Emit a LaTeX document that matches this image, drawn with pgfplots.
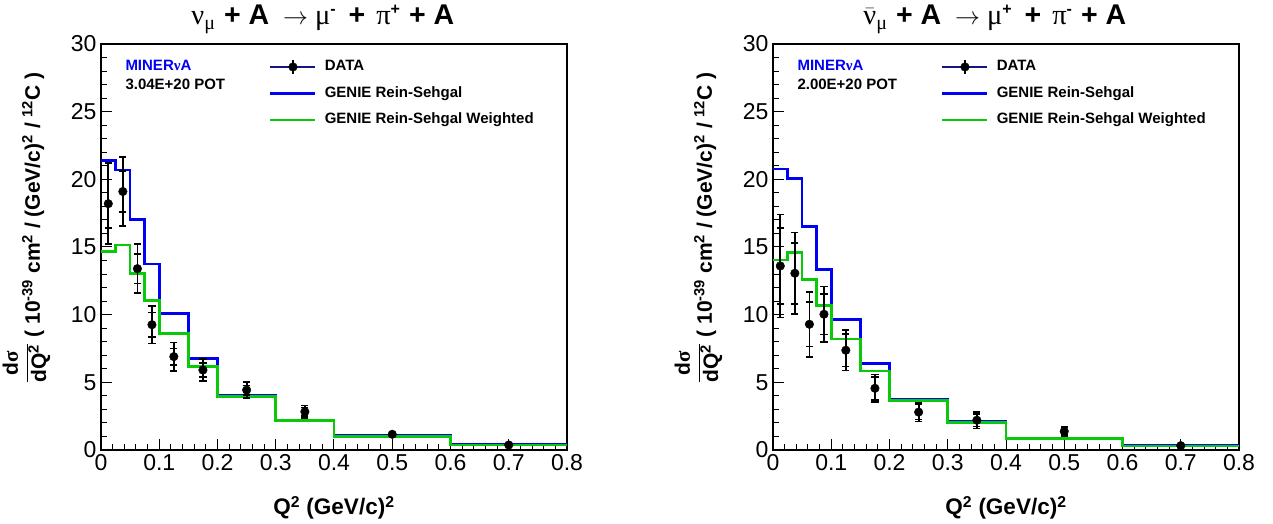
\documentclass[border=0pt]{standalone}
\usepackage{fontspec}
\setmainfont{Liberation Sans}
\newfontfamily\grk{Liberation Serif}
\usepackage{pgfplots}
\usepackage{pgfplotstable}
\pgfplotsset{compat=1.18}
\definecolor{rblue}{RGB}{0,0,245}
\definecolor{rgreen}{RGB}{10,200,10}
\definecolor{navy}{RGB}{20,20,130}

% data: x, y, stat error, total error
\pgfplotstableread{
x y stat tot
0.0125 18.2 1.8 3.0
0.0375 19.1 1.5 2.55
0.0625 13.4 1.1 1.8
0.0875 9.26 0.9 1.4
0.125 6.9 0.6 1.05
0.175 5.91 0.5 0.8
0.25 4.43 0.35 0.6
0.35 2.83 0.3 0.45
0.5 1.16 0.08 0.12
0.7 0.37 0.04 0.06
}\dataL
\pgfplotstableread{
x y stat tot
0.0125 13.6 2.8 3.8
0.0375 13.06 2.25 3.0
0.0625 9.29 1.65 2.4
0.0875 10.03 1.5 2.05
0.125 7.37 1.2 1.5
0.175 4.56 0.85 1.03
0.25 2.8 0.55 0.68
0.35 2.2 0.45 0.6
0.5 1.38 0.28 0.35
0.7 0.32 0.05 0.08
}\dataR
% histograms: left bin edge, value
\pgfplotstableread{
x blue green
0 21.4 14.65
0.025 20.7 15.15
0.05 17.05 13.06
0.075 13.75 11.04
0.1 10.1 8.62
0.15 6.75 6.16
0.2 4.04 3.94
0.3 2.2 2.2
0.4 1.05 1.01
0.6 0.4 0.37
0.8 0.4 0.37
}\histL
\pgfplotstableread{
x blue green
0 20.75 14.04
0.025 20.08 14.6
0.05 16.5 12.6
0.075 13.35 10.67
0.1 9.66 8.2
0.15 6.41 5.84
0.2 3.77 3.65
0.3 2.1 2.05
0.4 0.9 0.86
0.6 0.32 0.3
0.8 0.32 0.3
}\histR

\newcommand{\subm}{\raisebox{-5pt}{\fontsize{20}{20}\selectfont\grk μ}}
\newcommand{\supx}[1]{\raisebox{10pt}{\fontsize{16}{16}\selectfont\bfseries #1}}

\pgfplotsset{rootstyle/.style={
  scale only axis, width=466pt, height=406pt,
  xmin=0, xmax=0.8, ymin=0, ymax=30,
  xtick={0,0.1,0.2,0.3,0.4,0.5,0.6,0.7,0.8},
  ytick={0,5,10,15,20,25,30},
  minor x tick num=4, minor y tick num=4,
  tick align=inside, xtick pos=left, ytick pos=left,
  major tick length=11pt, minor tick length=6pt,
  axis line style={line width=1.5pt},
  every tick/.style={black, line width=1pt},
  tick label style={font=\fontsize{23}{25}\selectfont},
  /pgf/number format/assume math mode=true,
  xticklabel style={/pgf/number format/fixed, yshift=-1pt},
  yticklabel style={xshift=-1pt},
  every axis x label/.style={at={(axis description cs:0.5,-0.160)}, anchor=base, font=\bfseries\fontsize{22.5}{25}\selectfont},
  every axis y label/.style={at={(axis description cs:-0.131,0.547)}, anchor=base, rotate=90, font=\bfseries\fontsize{21}{24}\selectfont},
  every axis title/.style={at={(axis description cs:0.476,1.047)}, anchor=base, font=\fontsize{28.5}{30}\selectfont},
  xlabel={Q\textsuperscript{2} (GeV/c)\textsuperscript{2}},
  ylabel={\raisebox{8pt}{$\displaystyle\frac{\hbox{d{\grk\bfseries σ}}}{\hbox{dQ\textsuperscript{2}}}$} ( 10\textsuperscript{-39} cm\textsuperscript{2} / (GeV/c)\textsuperscript{2} / \textsuperscript{12}C )},
  legend style={at={(axis description cs:0.354,0.971)}, anchor=north west, draw=none, fill=none,
    font=\bfseries\fontsize{15}{17}\selectfont, row sep=8.5pt, column sep=6pt,
    nodes={inner sep=2pt, text height=11pt, text depth=3pt}},
  legend cell align=left,
  clip=false,
}}
\pgfplotsset{histo/.style={const plot mark left, mark=none, line width=2.6pt},
  cap/.style={only marks, mark=-, mark size=3.6pt, line width=1.6pt, black},
  toterr/.style={only marks, mark=*, mark size=4.3pt, black, mark options={fill=black},
    error bars/.cd, y dir=both, y explicit, error mark=none,
    error bar style={line width=1.8pt, black}},
}

\begin{document}
\begin{tikzpicture}
\useasboundingbox (0pt,0pt) rectangle (1273pt,524pt);
\begin{axis}[rootstyle, at={(101pt,74pt)}, anchor=south west,
  title={{\grk ν}\subm\hspace{9pt}\textbf{+ A}\hspace{14pt}$\rightarrow$\hspace{7pt}{\grk μ}\supx{-}\hspace{13pt}\textbf{+}\hspace{11pt}{\grk π}\supx{+}\hspace{9pt}\textbf{+ A}}]
\addlegendimage{legend image code/.code={\draw[navy,line width=1.2pt] (0pt,0pt)--(45pt,0pt); \draw[black,line width=1.2pt] (22.5pt,-7pt)--(22.5pt,7pt); \fill[black] (22.5pt,0pt) circle (4.3pt);}}
\addlegendentry{DATA}
\addlegendimage{legend image code/.code={\draw[rblue,line width=2.6pt] (0pt,0pt)--(45pt,0pt);}}
\addlegendentry{GENIE Rein-Sehgal}
\addlegendimage{legend image code/.code={\draw[rgreen,line width=2.6pt] (0pt,0pt)--(45pt,0pt);}}
\addlegendentry{GENIE Rein-Sehgal Weighted}
\addplot[forget plot, histo, rblue] table[x=x, y=blue] {\histL};
\addplot[forget plot, histo, rgreen] table[x=x, y=green] {\histL};
\addplot[forget plot, cap] table[x=x, y expr=\thisrow{y}+\thisrow{tot}] {\dataL};
\addplot[forget plot, cap] table[x=x, y expr=\thisrow{y}-\thisrow{tot}] {\dataL};
\addplot[forget plot, cap] table[x=x, y expr=\thisrow{y}+\thisrow{stat}] {\dataL};
\addplot[forget plot, cap] table[x=x, y expr=\thisrow{y}-\thisrow{stat}] {\dataL};
\addplot[forget plot, toterr] table[x=x, y=y, y error=tot] {\dataL};
\node[anchor=west, text=rblue, font=\bfseries\fontsize{15}{17}\selectfont] at (axis description cs:0.045,0.948) {MINER{\grk ν}A};
\node[anchor=west, font=\bfseries\fontsize{15}{17}\selectfont] at (axis description cs:0.045,0.900) {3.04E+20 POT};
\end{axis}
\begin{axis}[rootstyle, at={(773pt,74pt)}, anchor=south west,
  title={$\bar{\hbox{\grk ν}}$\subm\hspace{9pt}\textbf{+ A}\hspace{14pt}$\rightarrow$\hspace{7pt}{\grk μ}\supx{+}\hspace{13pt}\textbf{+}\hspace{11pt}{\grk π}\supx{-}\hspace{9pt}\textbf{+ A}}]
\addlegendimage{legend image code/.code={\draw[navy,line width=1.2pt] (0pt,0pt)--(45pt,0pt); \draw[black,line width=1.2pt] (22.5pt,-7pt)--(22.5pt,7pt); \fill[black] (22.5pt,0pt) circle (4.3pt);}}
\addlegendentry{DATA}
\addlegendimage{legend image code/.code={\draw[rblue,line width=2.6pt] (0pt,0pt)--(45pt,0pt);}}
\addlegendentry{GENIE Rein-Sehgal}
\addlegendimage{legend image code/.code={\draw[rgreen,line width=2.6pt] (0pt,0pt)--(45pt,0pt);}}
\addlegendentry{GENIE Rein-Sehgal Weighted}
\addplot[forget plot, histo, rblue] table[x=x, y=blue] {\histR};
\addplot[forget plot, histo, rgreen] table[x=x, y=green] {\histR};
\addplot[forget plot, cap] table[x=x, y expr=\thisrow{y}+\thisrow{tot}] {\dataR};
\addplot[forget plot, cap] table[x=x, y expr=\thisrow{y}-\thisrow{tot}] {\dataR};
\addplot[forget plot, cap] table[x=x, y expr=\thisrow{y}+\thisrow{stat}] {\dataR};
\addplot[forget plot, cap] table[x=x, y expr=\thisrow{y}-\thisrow{stat}] {\dataR};
\addplot[forget plot, toterr] table[x=x, y=y, y error=tot] {\dataR};
\node[anchor=west, text=rblue, font=\bfseries\fontsize{15}{17}\selectfont] at (axis description cs:0.045,0.948) {MINER{\grk ν}A};
\node[anchor=west, font=\bfseries\fontsize{15}{17}\selectfont] at (axis description cs:0.045,0.900) {2.00E+20 POT};
\end{axis}
\end{tikzpicture}
\end{document}
